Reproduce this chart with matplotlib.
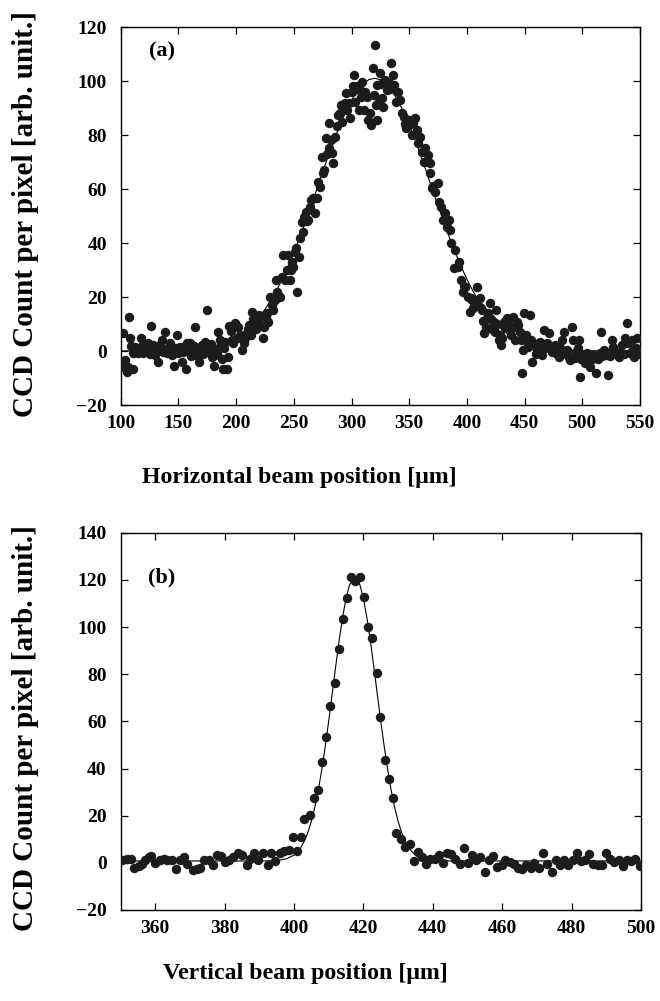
import matplotlib
matplotlib.use("Agg")
import matplotlib.pyplot as plt
from matplotlib.ticker import MultipleLocator, FixedLocator

plt.rcParams['font.family'] = ['Liberation Serif', 'DejaVu Serif']
plt.rcParams['font.weight'] = 'bold'

# ---------------- Panel (a): horizontal profile ----------------
xa = [101.7, 102.9, 103.8, 105.2, 106.0, 107.5, 108.1, 109.0, 110.4, 111.0, 112.5, 113.9, 115.3, 117.3, 118.5,
      119.7, 121.0, 122.5, 124.0, 125.0, 126.0, 126.9, 128.3, 129.8, 131.2, 132.7, 134.1, 135.5, 137.0, 138.4,
      139.9, 141.3, 142.8, 144.2, 146.2, 147.5, 148.6, 150.0, 151.5, 152.9, 154.3, 155.5, 156.6, 157.8, 159.0,
      160.1, 161.2, 162.4, 163.5, 164.5, 165.9, 167.0, 168.2, 169.2, 170.2, 171.5, 173.1, 174.0, 175.1, 176.9,
      178.0, 178.9, 180.0, 180.9, 182.0, 183.2, 184.7, 185.7, 186.7, 187.6, 188.4, 189.5, 190.7, 191.9, 193.4,
      194.2, 195.2, 196.2, 197.5, 199.1, 200.6, 202.0, 203.5, 204.9, 206.9, 208.0, 209.2, 210.5, 211.6, 212.5,
      213.6, 214.5, 215.6, 217.0, 218.0, 219.0, 220.2, 221.5, 223.1, 224.3, 225.5, 226.6, 228.0, 229.5, 230.9,
      232.4, 233.5, 234.7, 235.7, 236.7, 238.2, 239.6, 241.0, 242.5, 243.9, 245.4, 246.8, 247.4, 248.5, 249.7,
      251.2, 252.2, 253.2, 254.9, 255.5, 257.0, 258.0, 259.0, 260.7, 261.7, 262.7, 264.2, 265.2, 266.5, 268.5,
      269.9, 271.4, 272.8, 274.3, 275.3, 276.3, 278.0, 279.0, 280.1, 280.9, 282.0, 283.0, 284.4, 285.8, 287.3,
      288.7, 289.8, 290.8, 292.0, 293.1, 294.3, 295.4, 296.5, 297.5, 298.8, 300.3, 301.3, 302.3, 303.2, 304.5,
      306.1, 307.0, 308.0, 309.0, 310.4, 311.8, 313.3, 314.7, 315.8, 316.8, 318.5, 319.5, 320.5, 321.4, 322.0,
      322.5, 323.4, 324.3, 325.5, 326.3, 327.7, 329.2, 330.6, 332.1, 333.0, 334.1, 335.8, 337.0, 338.7, 340.5,
      342.2, 343.5, 345.1, 346.3, 347.4, 349.4, 350.9, 352.0, 353.2, 355.2, 356.6, 358.0, 359.5, 361.0, 362.5,
      363.9, 365.9, 367.6, 368.2, 369.7, 371.0, 372.5, 374.6, 375.4, 377.5, 379.2, 381.2, 382.5, 384.1, 385.5,
      386.5, 388.4, 389.9, 391.9, 393.0, 394.8, 396.5, 397.5, 398.6, 400.6, 402.3, 403.3, 404.3, 405.5, 407.2,
      408.7, 409.8, 411.0, 412.0, 413.0, 414.0, 415.0, 416.2, 417.3, 418.5, 419.7, 421.0, 422.0, 423.1, 424.2,
      425.4, 426.5, 427.5, 428.5, 429.5, 430.6, 431.8, 433.0, 434.7, 436.0, 437.0, 438.5, 439.9, 440.9, 441.9,
      443.4, 444.5, 445.7, 446.7, 447.7, 448.7, 449.7, 451.0, 452.0, 453.2, 454.3, 455.3, 456.4, 457.4, 458.4,
      459.5, 460.7, 462.0, 463.6, 465.0, 466.5, 467.9, 469.3, 470.8, 472.2, 473.7, 475.0, 476.6, 478.0, 479.5,
      481.0, 482.4, 483.8, 485.2, 486.7, 488.0, 489.6, 491.0, 492.0, 493.5, 494.8, 496.0, 496.8, 497.7, 498.7,
      499.7, 501.0, 502.6, 504.0, 505.5, 506.9, 508.0, 509.2, 510.6, 512.1, 513.5, 515.0, 516.2, 517.3, 518.5,
      520.0, 521.9, 522.8, 524.2, 525.7, 527.0, 528.6, 530.0, 531.5, 533.0, 534.4, 536.0, 537.3, 538.7, 540.0,
      541.6, 543.1, 544.0, 545.1, 546.2, 547.4, 548.8, 549.7]
ya = [6.5, -5.8, -3.3, -7.7, -6.0, 12.7, 4.7, 2.0, -6.8, -0.9, 1.5, 0.4, -0.9, 4.7, 2.0,
      -0.9, 1.5, 1.0, 3.1, -1.0, 9.3, -0.9, 2.2, -1.5, 0.4, -4.0, 2.2, 4.1, -0.2, 7.2,
      -0.9, 1.0, 3.0, -1.5, -5.6, 1.0, 5.9, -0.9, 1.5, -4.0, -0.2, 1.8, -6.8, 2.8, 0.5,
      2.8, -1.8, -0.9, 2.0, 8.8, 1.0, -2.0, -4.0, 0.5, 2.2, -1.0, 3.5, 0.5, 15.2, -0.2,
      2.5, -2.1, 1.0, -5.6, -1.5, -0.9, 7.2, 4.0, 2.2, -3.0, -6.8, 1.0, 3.5, -6.8, -2.1,
      9.3, 7.5, 4.1, 3.0, 10.5, 4.7, 9.0, 5.9, 0.4, 2.8, 5.0, 6.5, 8.0, 9.6, 6.0,
      14.6, 12.0, 9.0, 8.0, 10.2, 11.5, 13.3, 9.5, 4.7, 9.0, 12.5, 14.0, 10.9, 20.1, 17.0,
      15.2, 19.0, 26.3, 22.0, 20.7, 20.1, 27.5, 35.6, 26.3, 30.0, 35.6, 26.3, 30.0, 33.0, 31.2,
      36.8, 38.0, 22.0, 34.7, 41.7, 47.9, 44.0, 49.8, 51.6, 48.0, 48.5, 53.5, 56.0, 56.5, 51.0,
      56.5, 62.7, 60.9, 72.0, 66.0, 67.0, 78.8, 73.0, 75.1, 84.3, 78.0, 73.2, 69.5, 79.4, 83.3,
      87.4, 88.0, 91.1, 85.0, 90.5, 92.0, 95.4, 89.3, 92.0, 86.2, 96.0, 98.0, 102.2, 92.4, 98.0,
      89.3, 96.6, 94.0, 99.8, 89.4, 96.0, 94.2, 85.6, 88.0, 83.7, 104.7, 94.8, 113.3, 91.1, 98.5,
      85.6, 92.3, 102.8, 99.0, 93.6, 90.5, 100.4, 96.7, 99.1, 97.0, 106.5, 102.2, 98.5, 92.3, 96.0,
      93.0, 88.0, 86.8, 84.0, 82.5, 83.7, 85.6, 80.0, 84.3, 86.2, 81.9, 77.0, 79.4, 73.8, 70.0,
      75.1, 72.6, 65.8, 69.5, 60.2, 61.0, 59.0, 62.1, 55.3, 53.5, 48.5, 51.0, 46.0, 48.5, 44.8,
      40.0, 30.6, 37.4, 31.2, 33.0, 26.3, 22.0, 24.0, 23.8, 20.1, 14.6, 19.5, 18.9, 16.0, 17.7,
      23.8, 17.0, 19.5, 16.0, 15.2, 11.0, 6.5, 9.0, 12.1, 14.0, 17.7, 12.0, 8.0, 10.9, 7.0,
      15.2, 10.0, 4.1, 6.0, 2.2, 5.0, 10.9, 8.5, 12.1, 10.0, 8.4, 6.0, 12.7, 9.0, 4.1,
      10.9, 9.5, 7.2, 4.0, -8.3, 0.5, 14.0, 6.0, 3.5, 1.5, 13.3, 4.0, -4.0, 3.0, 2.2,
      -1.0, 0.4, 2.5, 3.5, -1.5, 7.8, 1.0, 3.0, 6.5, 2.0, -0.2, 1.5, 2.2, -1.0, -2.1,
      1.0, 4.1, 7.2, 0.0, 0.4, -2.0, -3.3, 9.0, 4.0, -2.5, -0.2, 1.0, 4.1, -9.5, -3.0,
      -1.5, -2.0, -4.6, -0.9, -2.5, -5.8, -3.0, -1.5, -2.0, -8.3, -3.0, -0.9, 7.2, -2.0, 0.4,
      -1.5, -8.9, -0.9, -2.0, 4.1, 1.5, -0.9, -1.0, -2.1, -0.5, 2.2, -1.0, 4.7, 10.2, 3.0,
      -0.9, 4.1, 0.5, -2.1, 1.0, 4.7, -0.2, -1.0]

# Fitted curve (a), values read at these positions
fit_xa = [100, 150, 160, 170, 180, 190, 195, 200, 205, 210, 215, 220, 225, 230, 235, 240, 245, 250, 255, 260,
          265, 270, 275, 280, 285, 290, 295, 300, 305, 310, 315, 320, 325, 330, 335, 340, 345, 350, 355, 360,
          365, 370, 375, 380, 385, 390, 395, 400, 405, 410, 415, 420, 425, 430, 435, 440, 445, 450, 460, 470,
          480, 490, 500, 550]
fit_ya = [0.0, 0.2, 0.5, 0.9, 1.7, 3.0, 3.9, 5.0, 6.4, 8.1, 10.2, 12.6, 15.4, 18.7, 22.4, 26.6, 31.3, 36.4, 41.9, 47.7,
          53.8, 60.0, 66.3, 72.4, 78.3, 83.7, 88.7, 92.9, 96.4, 98.9, 100.5, 101.0, 100.5, 98.9, 96.4, 92.9, 88.7, 83.7, 78.3, 72.4,
          66.3, 60.0, 53.8, 47.7, 41.9, 36.4, 31.3, 26.6, 22.4, 18.7, 15.4, 12.6, 10.2, 8.1, 6.4, 5.0, 3.9, 3.0, 1.7, 0.9,
          0.5, 0.2, 0.1, 0.0]

# ---------------- Panel (b): vertical profile ----------------
xb = [350.4, 351.8, 352.9, 354.0, 355.2, 356.2, 357.1, 358.1, 358.8, 360.0, 361.3, 362.4, 363.4, 364.8, 366.0,
      367.2, 368.4, 369.3, 370.9, 372.0, 373.0, 374.1, 375.4, 376.8, 377.8, 378.9, 380.2, 381.2, 382.4, 383.8,
      385.0, 386.4, 387.4, 388.6, 389.5, 391.1, 392.4, 393.4, 394.6, 396.1, 397.2, 398.5, 399.7, 401.0, 402.0,
      402.9, 404.5, 405.7, 406.9, 408.1, 409.3, 410.5, 411.7, 412.9, 414.1, 415.3, 416.4, 417.7, 418.9, 420.1,
      421.3, 422.5, 423.8, 424.9, 426.1, 427.3, 428.5, 429.5, 430.7, 431.9, 433.3, 434.5, 435.6, 436.9, 438.1,
      439.3, 440.5, 441.7, 442.9, 444.1, 445.3, 446.5, 447.7, 448.9, 450.1, 451.3, 452.5, 453.7, 455.0, 456.1,
      457.4, 458.5, 459.8, 460.9, 462.2, 463.4, 464.5, 465.8, 467.0, 468.2, 469.3, 470.6, 471.8, 473.0, 474.3,
      475.4, 476.7, 477.9, 479.0, 480.3, 481.5, 482.7, 483.9, 485.1, 486.3, 487.5, 488.7, 489.9, 491.2, 492.3,
      493.6, 494.8, 496.0, 497.1, 498.4, 499.8]
yb = [1.4, 1.8, 1.8, -2.4, -1.4, -0.6, 1.1, 2.3, 2.8, 0.0, 1.1, 1.8, 1.1, 1.4, -2.8,
      1.4, 2.5, -0.6, -3.1, -2.8, -2.0, 1.1, 1.4, -1.0, 3.3, 2.8, 0.4, 1.4, 2.5, 4.2,
      3.3, -1.0, 1.8, 4.0, 1.4, 4.2, -1.0, 4.0, 0.8, 4.0, 5.1, 5.4, 11.0, 5.1, 11.0,
      18.8, 20.2, 27.7, 30.8, 42.9, 53.5, 66.5, 76.1, 90.5, 103.3, 112.2, 121.4, 119.7, 121.4, 112.6,
      100.1, 95.2, 80.3, 62.0, 43.6, 35.4, 27.7, 12.7, 9.9, 6.8, 7.8, 0.8, 4.7, 2.5, -0.3,
      1.8, 1.8, 3.3, 0.0, 4.0, 3.7, 1.8, -0.3, 6.1, 0.0, 3.3, 1.4, 2.3, -3.8, 1.1,
      2.8, -1.7, -1.0, 1.4, 0.4, -0.6, -2.0, -2.8, -1.0, -2.0, 0.0, -2.4, 4.0, -0.3, -3.8,
      1.4, -1.0, 1.4, -1.0, 1.4, 4.0, 0.8, 1.1, 3.7, -0.3, -1.0, -1.0, 4.0, 1.8, 0.4,
      1.4, -1.4, 1.4, 0.8, 1.8, -1.4]

fit_xb = [350, 390, 395, 398, 400, 401, 402, 403, 404, 405, 406, 407, 408, 409, 410, 411, 412, 413, 414, 415,
          416, 417.5, 419, 420, 421, 422, 423, 424, 425, 426, 427, 428, 429, 430, 431, 432, 433, 434, 435, 436,
          437, 438, 440, 445, 500]
fit_yb = [0.8, 0.8, 0.9, 1.8, 3.3, 4.7, 6.6, 9.3, 12.9, 17.6, 23.6, 30.8, 39.5, 49.3, 60.1, 71.6, 83.1, 94.2, 104.1, 112.2,
          117.9, 121.3, 117.9, 112.2, 104.1, 94.2, 83.1, 71.6, 60.1, 49.3, 39.5, 30.8, 23.6, 17.6, 12.9, 9.3, 6.6, 4.7, 3.3, 2.4,
          1.8, 1.4, 1.0, 0.8, 0.8]

W, H = 660, 1001
fig = plt.figure(figsize=(W / 100, H / 100), dpi=100)

ax_a = fig.add_axes([120.7 / W, 1 - 405 / H, (640 - 120.7) / W, (405 - 27) / H])
ax_b = fig.add_axes([120.5 / W, 1 - 910 / H, (641 - 120.5) / W, (910 - 532.7) / H])

dot = '#1c1c1c'
for ax, x, y, fx, fy in [(ax_a, xa, ya, fit_xa, fit_ya), (ax_b, xb, yb, fit_xb, fit_yb)]:
    ax.plot(fx, fy, color='black', lw=0.8, zorder=2)
    ax.plot(x, y, 'o', color=dot, markersize=6.8, markeredgewidth=0, zorder=3)
    ax.tick_params(direction='in', top=True, right=True, length=5, width=0.9, labelsize=14)
    ax.tick_params(axis='y', pad=10)
    ax.tick_params(axis='x', pad=7)
    for s in ax.spines.values():
        s.set_linewidth(1.0)

ax_a.set_xlim(100, 550)
ax_a.set_ylim(-20, 120)
ax_a.xaxis.set_major_locator(MultipleLocator(50))
ax_a.yaxis.set_major_locator(MultipleLocator(20))

ax_b.set_xlim(350, 500)
ax_b.set_ylim(-20, 140)
ax_b.xaxis.set_major_locator(FixedLocator([360, 380, 400, 420, 440, 460, 480, 500]))
ax_b.yaxis.set_major_locator(MultipleLocator(20))

for ax in (ax_a, ax_b):
    for lab in ax.get_xticklabels() + ax.get_yticklabels():
        lab.set_fontweight('bold')

ax_a.text(0.055, 0.935, '(a)', transform=ax_a.transAxes, fontsize=16, fontweight='bold', va='center', ha='left')
ax_b.text(0.053, 0.881, '(b)', transform=ax_b.transAxes, fontsize=16, fontweight='bold', va='center', ha='left')

fig.text(299 / W, 1 - 477 / H, 'Horizontal beam position [\u03bcm]', fontsize=17.2, fontweight='bold', ha='center', va='center')
fig.text(305 / W, 1 - 973 / H, 'Vertical beam position [\u03bcm]', fontsize=17.2, fontweight='bold', ha='center', va='center')
fig.text(26 / W, 1 - 214 / H, 'CCD Count per pixel [arb. unit.]', fontsize=21, fontweight='bold', rotation=90, ha='center', va='center')
fig.text(26 / W, 1 - 728 / H, 'CCD Count per pixel [arb. unit.]', fontsize=21, fontweight='bold', rotation=90, ha='center', va='center')

fig.savefig('out.png', dpi=100)
